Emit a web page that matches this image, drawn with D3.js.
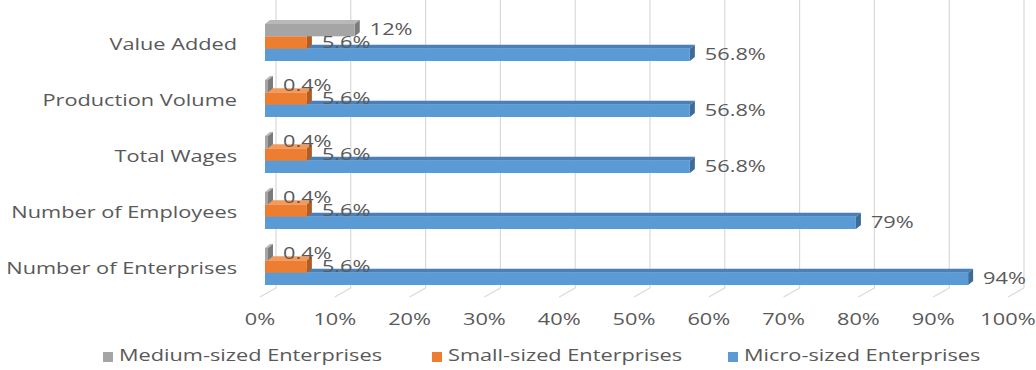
<!DOCTYPE html>
<html>
<head>
<meta charset="utf-8">
<script src="https://cdn.jsdelivr.net/npm/d3@7"></script>
<style>
  html, body { margin: 0; padding: 0; background: #fff; }
  svg text { font-family: "Open Sans", "DejaVu Sans", sans-serif; fill: #595959; }
</style>
</head>
<body>
<svg id="chart" width="1036" height="370"></svg>
<script>
// Indicators, listed top to bottom
const categories = ["Value Added", "Production Volume", "Total Wages", "Number of Employees", "Number of Enterprises"];
// Series (legend order)
const seriesNames = ["Medium-sized Enterprises", "Small-sized Enterprises", "Micro-sized Enterprises"];
const mediumValues = [12, 0.4, 0.4, 0.4, 0.4];
const smallValues  = [5.6, 5.6, 5.6, 5.6, 5.6];
const microValues  = [56.8, 56.8, 56.8, 79, 94];
const tickValues = [0, 10, 20, 30, 40, 50, 60, 70, 80, 90, 100];

const palette = {
  "Medium-sized Enterprises": { front: "#a5a5a5", top: "#b8b8b8", side: "#7b7b7b" },
  "Small-sized Enterprises":  { front: "#ed7d31", top: "#f29a5c", side: "#b05c22" },
  "Micro-sized Enterprises":  { front: "#5b9bd5", top: "#4a80b8", side: "#3d6c98" }
};

const series = [
  { name: seriesNames[0], values: mediumValues },
  { name: seriesNames[1], values: smallValues },
  { name: seriesNames[2], values: microValues }
];

const svg = d3.select("#chart");
const STRETCH = 1.36;          // horizontal stretch applied to every label
const depthX = 5, depthY = 4;  // bar extrusion
const wallX = 11, wallY = 9;   // back wall offset of gridlines

const x = d3.scaleLinear().domain([0, 100]).range([265, 1013]);
const y = d3.scaleBand().domain(categories).range([17, 297]);
const inner = d3.scaleBand().domain(seriesNames).range([-21, 16]).paddingInner(0);

function label(sel, tx, ty) {
  return sel.attr("transform", `translate(${tx},${ty}) scale(${STRETCH},1)`);
}

// Gridlines: back wall verticals plus a short floor segment
const floorY = 297;
const grid = svg.append("g");
grid.selectAll("path").data(tickValues).join("path")
  .attr("d", d => `M${x(d) + wallX},0 L${x(d) + wallX},${floorY - wallY} L${x(d) - 5},${floorY}`)
  .attr("fill", "none").attr("stroke", "#d9d9d9").attr("stroke-width", 1.2);

// Tick labels
svg.append("g").selectAll("text").data(tickValues).join("text")
  .each(function(d) { label(d3.select(this), x(d) - 5, 321); })
  .attr("text-anchor", "middle").attr("dominant-baseline", "middle")
  .attr("font-size", 16).text(d => d + "%");

// Category labels
svg.append("g").selectAll("text").data(categories).join("text")
  .each(function(d) { label(d3.select(this), 237, y(d) + y.bandwidth() / 2 + 1); })
  .attr("text-anchor", "end").attr("dominant-baseline", "middle")
  .attr("font-size", 16).text(d => d);

// 3D bars: drawn bottom series first so upper bars cover the lower tops
const bars = svg.append("g");
const drawOrder = series.slice().reverse();
drawOrder.forEach(s => {
  const col = palette[s.name];
  const h = inner.bandwidth();
  categories.forEach((c, i) => {
    const v = s.values[i];
    const cy = y(c) + y.bandwidth() / 2;
    const y0 = cy + inner(s.name);
    const y1 = y0 + h;
    const x0 = x(0), x1 = x(v);
    const g = bars.append("g");
    g.append("path")
      .attr("d", `M${x0},${y0} L${x0 + depthX},${y0 - depthY} L${x1 + depthX},${y0 - depthY} L${x1},${y0} Z`)
      .attr("fill", col.top);
    g.append("path")
      .attr("d", `M${x1},${y0} L${x1 + depthX},${y0 - depthY} L${x1 + depthX},${y1 - depthY} L${x1},${y1} Z`)
      .attr("fill", col.side);
    g.append("rect")
      .attr("x", x0).attr("y", y0).attr("width", Math.max(0, x1 - x0)).attr("height", h)
      .attr("fill", col.front);
  });
});

// Data labels
const labelsG = svg.append("g");
series.forEach(s => {
  categories.forEach((c, i) => {
    const v = s.values[i];
    const cy = y(c) + y.bandwidth() / 2 + inner(s.name) + inner.bandwidth() / 2;
    label(labelsG.append("text"), x(v) + 15, cy + 1)
      .attr("dominant-baseline", "middle").attr("font-size", 16)
      .text(v + "%");
  });
});

// Legend
const legendX = [103, 432, 728];
const legend = svg.append("g");
series.forEach((s, i) => {
  legend.append("rect")
    .attr("x", legendX[i]).attr("y", 352).attr("width", 10).attr("height", 10)
    .attr("fill", palette[s.name].front);
  label(legend.append("text"), legendX[i] + 16, 357)
    .attr("dominant-baseline", "middle").attr("font-size", 16)
    .text(s.name);
});
</script>
</body>
</html>
